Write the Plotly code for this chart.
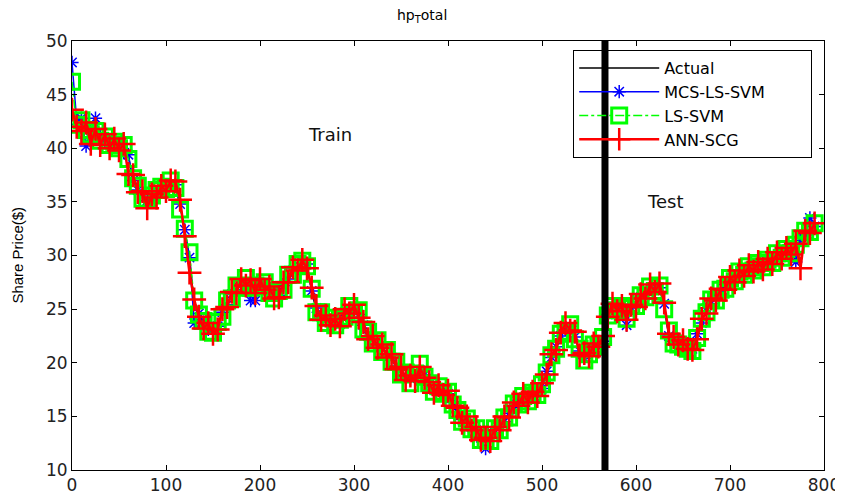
import plotly.graph_objects as go

# ---------------- data ----------------
day = list(range(0, 791, 5))

actual = [
    43.0, 42.5, 42.3, 42.0, 41.6, 41.4, 41.0, 40.8, 40.6, 40.4,
    40.3, 40.0, 39.3, 36.8, 36.2, 35.6, 35.0, 35.3, 35.8, 36.1,
    36.4, 36.7, 36.5, 34.6, 32.2, 30.0, 25.4, 24.8, 23.6, 23.2,
    23.1, 23.5, 24.6, 25.5, 26.3, 26.9, 27.3, 27.6, 27.3, 26.9,
    27.4, 27.2, 26.8, 26.3, 26.4, 27.1, 27.9, 28.5, 28.9, 29.2,
    29.3, 26.5, 25.0, 24.4, 24.0, 23.9, 23.8, 23.7, 24.6, 25.0,
    24.9, 24.6, 23.4, 22.6, 22.1, 21.8, 21.3, 20.9, 20.4, 19.8,
    19.2, 18.8, 18.4, 18.7, 19.2, 19.0, 17.8, 17.6, 17.5, 17.4,
    17.0, 16.4, 15.3, 14.8, 14.5, 14.1, 13.6, 13.1, 12.6, 13.0,
    13.6, 14.0, 14.6, 15.2, 15.9, 16.4, 16.6, 16.7, 16.9, 17.3,
    17.7, 19.4, 20.4, 21.6, 22.4, 23.2, 23.3, 22.5, 21.0, 20.5,
    21.0, 21.4, 21.8, 22.1, 24.7, 25.0, 25.2, 24.8, 24.4, 25.0,
    25.6, 26.0, 26.4, 26.8, 27.0, 26.9, 25.3, 22.3, 22.1, 22.0,
    21.8, 21.6, 21.4, 22.6, 23.8, 25.0, 25.6, 26.1, 26.5, 27.2,
    27.6, 27.9, 28.2, 28.5, 28.7, 28.9, 29.0, 29.2, 29.3, 29.6,
    29.9, 30.1, 30.3, 30.5, 30.7, 31.3, 32.0, 32.5, 32.8,
]

mcs_ls_svm = [
    48.0, 42.6, 42.8, 40.2, 41.7, 42.8, 41.1, 40.6, 40.8, 40.3,
    40.4, 39.6, 39.4, 37.0, 36.1, 35.7, 35.1, 35.2, 35.9, 36.0,
    36.5, 36.6, 36.6, 34.8, 32.4, 29.8, 23.7, 24.6, 23.8, 23.1,
    23.2, 23.4, 24.7, 25.4, 26.4, 26.8, 27.4, 27.5, 25.8, 25.8,
    27.3, 27.3, 26.7, 26.4, 26.3, 27.2, 27.8, 28.6, 28.8, 29.3,
    29.2, 26.7, 25.1, 24.3, 24.1, 23.8, 23.9, 23.6, 24.7, 24.9,
    25.0, 24.5, 23.5, 22.5, 22.2, 21.7, 21.4, 20.8, 20.5, 19.7,
    19.3, 18.7, 18.5, 18.6, 19.3, 18.9, 17.9, 17.5, 17.6, 17.3,
    17.1, 16.3, 15.4, 14.7, 14.6, 14.0, 13.7, 13.0, 12.0, 13.1,
    13.5, 14.1, 14.5, 15.3, 15.8, 16.5, 16.5, 16.8, 16.8, 17.4,
    17.6, 19.2, 20.5, 21.5, 22.5, 23.1, 23.4, 22.4, 21.1, 20.4,
    21.1, 21.3, 21.9, 22.0, 24.5, 25.1, 25.1, 24.9, 23.5, 25.1,
    25.5, 26.1, 26.3, 26.9, 26.9, 27.0, 25.5, 22.5, 22.0, 22.1,
    21.7, 21.7, 21.3, 22.7, 23.7, 25.1, 25.5, 26.2, 26.4, 27.3,
    27.5, 28.0, 28.1, 28.6, 28.6, 29.0, 28.9, 29.3, 29.2, 29.7,
    29.8, 30.2, 30.2, 30.6, 29.4, 31.4, 31.9, 33.5, 32.7,
]

ls_svm = [
    46.2, 42.2, 42.6, 41.7, 41.3, 41.6, 40.7, 41.1, 40.3, 40.6,
    40.0, 40.3, 39.0, 37.2, 36.5, 35.3, 35.2, 35.6, 36.1, 36.4,
    36.2, 37.0, 36.3, 34.3, 32.5, 30.3, 25.8, 24.5, 23.9, 22.9,
    22.8, 23.8, 24.3, 25.8, 26.0, 27.2, 27.0, 27.9, 27.0, 27.2,
    27.1, 27.5, 26.5, 26.0, 26.7, 26.8, 28.2, 28.2, 29.2, 29.5,
    29.0, 26.9, 24.7, 24.7, 23.7, 24.2, 23.5, 24.0, 24.3, 25.3,
    24.6, 24.9, 23.1, 22.9, 21.8, 22.1, 21.0, 21.2, 20.1, 20.1,
    18.9, 19.1, 18.1, 19.0, 19.9, 18.7, 18.1, 17.3, 17.8, 17.1,
    17.3, 16.1, 15.6, 14.5, 14.8, 13.8, 13.9, 12.8, 12.8, 12.7,
    13.9, 13.7, 14.9, 14.9, 16.2, 16.1, 16.9, 16.4, 17.2, 17.0,
    18.0, 19.1, 20.7, 21.3, 22.7, 22.9, 23.6, 22.2, 21.3, 20.2,
    20.8, 21.7, 21.5, 22.4, 24.4, 25.3, 24.9, 25.1, 24.1, 25.3,
    25.3, 26.3, 26.1, 27.1, 26.7, 27.2, 25.0, 23.0, 21.8, 21.7,
    21.5, 21.3, 21.1, 22.3, 24.1, 24.7, 25.9, 25.8, 26.8, 26.9,
    27.9, 27.6, 28.5, 28.2, 29.0, 28.6, 29.3, 28.9, 29.6, 29.3,
    30.2, 29.8, 30.6, 30.2, 31.0, 31.6, 32.3, 32.2, 33.0,
]

ann_scg = [
    43.6, 42.0, 41.6, 42.4, 40.4, 41.8, 40.3, 41.3, 40.0, 40.9,
    39.8, 40.4, 37.6, 37.5, 35.9, 36.0, 34.4, 35.7, 35.4, 36.5,
    36.0, 37.0, 36.9, 35.2, 31.8, 28.4, 25.9, 24.3, 23.2, 23.7,
    22.7, 23.1, 25.0, 25.2, 26.6, 26.5, 27.8, 27.2, 27.7, 26.5,
    27.8, 26.8, 27.1, 26.0, 26.1, 27.5, 27.5, 28.9, 28.6, 29.6,
    28.8, 27.0, 25.3, 24.0, 24.4, 23.5, 24.1, 23.4, 25.0, 24.6,
    25.4, 24.2, 23.8, 22.2, 22.5, 21.4, 21.7, 20.5, 20.8, 19.4,
    19.6, 18.4, 18.8, 18.3, 19.6, 18.6, 18.2, 17.2, 17.9, 17.0,
    17.4, 16.0, 15.8, 14.4, 15.0, 13.7, 14.0, 12.8, 13.0, 12.7,
    14.0, 13.7, 15.0, 14.9, 16.3, 16.0, 17.1, 16.3, 17.3, 16.9,
    18.1, 18.9, 20.8, 21.2, 22.8, 23.7, 23.0, 22.9, 20.7, 20.9,
    20.6, 21.8, 21.5, 22.5, 24.3, 25.5, 24.8, 25.3, 24.0, 25.4,
    25.2, 26.4, 26.0, 27.3, 26.6, 27.4, 25.6, 22.7, 22.4, 21.7,
    22.1, 21.3, 21.2, 22.2, 24.1, 24.6, 26.0, 25.8, 26.9, 26.8,
    28.0, 27.5, 28.6, 28.1, 29.1, 28.5, 29.4, 28.7, 29.7, 29.2,
    30.3, 29.7, 30.7, 30.1, 31.1, 28.8, 32.3, 32.1, 33.0,
]

split_day = 567          # train / test separator
x_ticks = list(range(0, 801, 100))
y_ticks = list(range(10, 51, 5))
title_text = "hp<sub>T</sub>otal"
y_label = "Share Price($)"
series_names = ["Actual", "MCS-LS-SVM", "LS-SVM", "ANN-SCG"]

FONT = "DejaVu Sans"
PAD = "\u00a0" * 8   # widens the legend box like the reference

fig = go.Figure()
fig.add_trace(go.Scatter(x=day, y=actual, name=series_names[0], mode="lines",
                         line=dict(color="black", width=1.5)))
fig.add_trace(go.Scatter(x=day, y=mcs_ls_svm, name=series_names[1] + PAD,
                         mode="lines+markers",
                         line=dict(color="#0000ff", width=1.5),
                         marker=dict(symbol="asterisk-open", size=11, color="#0000ff",
                                     line=dict(color="#0000ff", width=1.5))))
fig.add_trace(go.Scatter(x=day, y=ls_svm, name=series_names[2], mode="lines+markers",
                         line=dict(color="#00ff00", width=1.5, dash="dashdot"),
                         marker=dict(symbol="square-open", size=15, color="#00ff00",
                                     line=dict(color="#00ff00", width=3))))
fig.add_trace(go.Scatter(x=day, y=ann_scg, name=series_names[3], mode="lines+markers",
                         line=dict(color="#ff0000", width=2.5),
                         marker=dict(symbol="cross-thin-open", size=17, color="#ff0000",
                                     line=dict(color="#ff0000", width=2.5))))

fig.add_shape(type="line", xref="x", yref="y", x0=split_day, x1=split_day, y0=10, y1=50,
              line=dict(color="black", width=7), layer="above")

fig.add_annotation(x=274, y=41.3, xref="x", yref="y", text="Train", showarrow=False,
                   font=dict(family=FONT, size=18, color="#111"))
fig.add_annotation(x=631, y=35.0, xref="x", yref="y", text="Test", showarrow=False,
                   font=dict(family=FONT, size=18, color="#111"))
fig.add_annotation(x=0.465, y=1.058, xref="paper", yref="paper", text=title_text,
                   xanchor="center", yanchor="middle",
                   showarrow=False, font=dict(family=FONT, size=14, color="black"))
fig.add_annotation(x=-0.073, y=0.5, xref="paper", yref="paper", text=y_label,
                   xanchor="center", yanchor="middle",
                   textangle=-90, showarrow=False,
                   font=dict(family="Liberation Sans", size=15, color="black"))

axis_common = dict(showline=True, linecolor="black", linewidth=1, mirror="ticks",
                   ticks="inside", ticklen=5, tickcolor="black", showgrid=False,
                   zeroline=False, automargin=False,
                   tickfont=dict(family=FONT, size=17, color="#222"))

# the page body adds an 8px offset, so the figure is 8px smaller than the window
fig.update_layout(
    width=835, height=487,
    margin=dict(l=64, r=19, t=33, b=25, autoexpand=False),
    paper_bgcolor="white", plot_bgcolor="white",
    showlegend=True,
    legend=dict(x=0.6665, y=0.979, xanchor="left", yanchor="top",
                bgcolor="rgba(0,0,0,0)", bordercolor="black", borderwidth=1,
                font=dict(family=FONT, size=16, color="black"),
                itemwidth=80, tracegroupgap=0),
    xaxis=dict(range=[0, 800], tickvals=x_ticks, **axis_common),
    yaxis=dict(range=[10, 50], tickvals=y_ticks, **axis_common),
)

fig.write_html("out.html")
